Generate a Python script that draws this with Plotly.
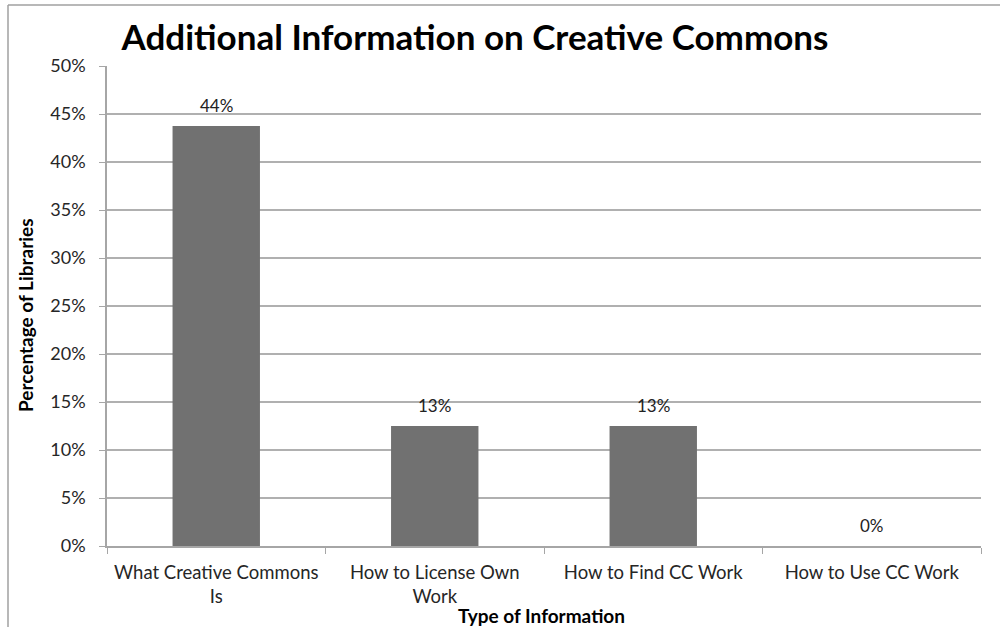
import plotly.graph_objects as go

categories = ["What Creative Commons<br>Is", "How to License Own<br>Work", "How to Find CC Work", "How to Use CC Work"]
values = [43.75, 12.5, 12.5, 0.0]
labels = ["44%", "13%", "13%", "0%"]
yticks = [0, 5, 10, 15, 20, 25, 30, 35, 40, 45, 50]
yticklabels = [f"{v}%" for v in yticks]

FONT = "Lato, Carlito, 'Open Sans', sans-serif"

fig = go.Figure()
fig.add_trace(go.Bar(
    x=categories, y=values, width=0.4,
    marker=dict(color="#717171", line=dict(color="#8c8c8c", width=0)),
    showlegend=False, hoverinfo="skip",
))

for c, v, t in zip(categories, values, labels):
    fig.add_annotation(x=c, y=v, text=t, showarrow=False, yanchor="middle", yshift=21,
                       font=dict(family=FONT, size=17, color="#222"))

L, R, T, B = 107, 19, 66, 81
W, H = 1000, 627
pw, ph = W - L - R, H - T - B

fig.update_layout(
    width=W, height=H,
    margin=dict(l=L, r=R, t=T, b=B),
    paper_bgcolor="white", plot_bgcolor="white",
    font=dict(family=FONT, color="#222"),
    title=dict(text="<b>Additional Information on Creative Commons</b>",
               x=475 / W, xanchor="center", y=1 - 38 / H, yanchor="middle",
               font=dict(family=FONT, size=35, color="#000")),
    xaxis=dict(
        showgrid=False, showline=True, linecolor="#a6a6a6", linewidth=1.5,
        ticks="outside", tickson="boundaries", ticklen=6, tickcolor="#a6a6a6",
        tickfont=dict(family=FONT, size=18.5, color="#262626"),
        ticklabelstandoff=9,
    ),
    yaxis=dict(
        range=[0, 50], tickvals=yticks, ticktext=yticklabels,
        showgrid=True, gridcolor="#b0b0b0", gridwidth=1.5,
        showline=True, linecolor="#a6a6a6", linewidth=1.5,
        ticks="outside", ticklen=6, tickcolor="#a6a6a6",
        tickfont=dict(family=FONT, size=18, color="#262626"),
        ticklabelstandoff=10,
        zeroline=False,
    ),
)

# axis titles
fig.add_annotation(xref="paper", yref="paper", x=(541 - L) / pw, y=-(615 - (H - B)) / ph,
                   text="<b>Type of Information</b>", showarrow=False,
                   xanchor="center", yanchor="middle",
                   font=dict(family=FONT, size=19, color="#000"))
fig.add_annotation(xref="paper", yref="paper", x=(25 - L) / pw, y=1 - (315 - T) / ph,
                   text="<b>Percentage of Libraries</b>", showarrow=False, textangle=-90,
                   xanchor="center", yanchor="middle",
                   font=dict(family=FONT, size=19, color="#000"))

# outer chart frame (top and left edges visible)
fig.add_shape(type="line", xref="paper", yref="paper",
              x0=(8 - L) / pw, x1=1 + R / pw, y0=1 + (T - 5) / ph, y1=1 + (T - 5) / ph,
              line=dict(color="#a0a0a0", width=1.5))
fig.add_shape(type="line", xref="paper", yref="paper",
              x0=(8 - L) / pw, x1=(8 - L) / pw, y0=1 + (T - 5) / ph, y1=-B / ph,
              line=dict(color="#a0a0a0", width=1.5))

fig.write_html("out.html")
